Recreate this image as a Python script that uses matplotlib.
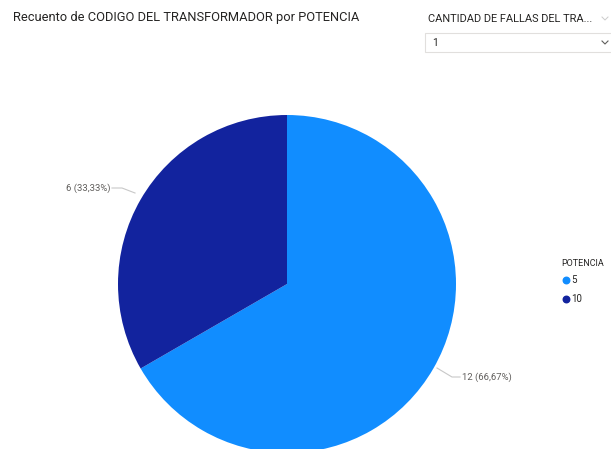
import matplotlib.pyplot as plt
from matplotlib.patches import FancyBboxPatch

# Datos
potencias = ["5", "10"]
conteos = [12, 6]
colores = ["#118DFF", "#12239E"]
titulo = "Recuento de CODIGO DEL TRANSFORMADOR por POTENCIA"
filtro_titulo = "CANTIDAD DE FALLAS DEL TRA..."
filtro_valor = "1"

W, H = 611, 449
fig = plt.figure(figsize=(W / 100, H / 100), dpi=100)
ax = fig.add_axes([0, 0, 1, 1])

fuente = "Roboto"
gris = "#252423"

# === Pie ===
cx, cy, r = 287, H - 284, 169
wedges, _ = ax.pie(conteos, colors=colores, startangle=90, counterclock=False,
                   center=(cx, cy), radius=r, frame=True,
                   wedgeprops=dict(linewidth=0))
ax.set_xlim(0, W)
ax.set_ylim(0, H)
ax.set_aspect("equal")
ax.axis("off")

total = sum(conteos)
# etiquetas con línea guía
etiquetas = [
    dict(xy=(437, H - 368), codo=(452, H - 377), txt=(462, H - 377), ha="left"),
    dict(xy=(135, H - 193), codo=(122, H - 188), txt=(110, H - 188), ha="right"),
]
for n, e in zip(conteos, etiquetas):
    pct = f"{n / total * 100:.2f}".replace(".", ",")
    ax.plot([e["xy"][0], e["codo"][0], e["txt"][0] + (-2 if e["ha"] == "left" else 2)],
            [e["xy"][1], e["codo"][1], e["txt"][1]], color="#C8C8C8", lw=0.8)
    ax.text(e["txt"][0], e["txt"][1], f"{n} ({pct}%)", ha=e["ha"], va="center",
            fontsize=6.8, color="#605E5C", family=fuente)

# === Título ===
ax.text(13, H - 18, titulo, ha="left", va="center", fontsize=9.3, color=gris, family=fuente)

# === Filtro ===
ax.text(428, H - 19, filtro_titulo, ha="left", va="center", fontsize=7.9, color=gris, family=fuente)
caja = FancyBboxPatch((425, H - 52), 190, 19, boxstyle="square,pad=0",
                      fc="white", ec="#E1DFDD", lw=0.8)
ax.add_patch(caja)
ax.text(432, H - 43, filtro_valor, ha="left", va="center", fontsize=7.5, color=gris, family=fuente)
ax.plot([602, 605, 608], [H - 41, H - 44, H - 41], color="#605E5C", lw=0.8)
ax.plot([602, 605, 608], [H - 17, H - 20, H - 17], color="#CCCCCC", lw=0.7)

# === Leyenda ===
ax.text(561, H - 263, "POTENCIA", ha="left", va="center", fontsize=6.5, color=gris, family=fuente)
for i, (p, c) in enumerate(zip(potencias, colores)):
    y = H - 280 - i * 19
    ax.scatter([566], [y], s=22, color=c, zorder=5)
    ax.text(571, y, p, ha="left", va="center", fontsize=7, color=gris, family=fuente)

fig.savefig("out.png", dpi=100)
